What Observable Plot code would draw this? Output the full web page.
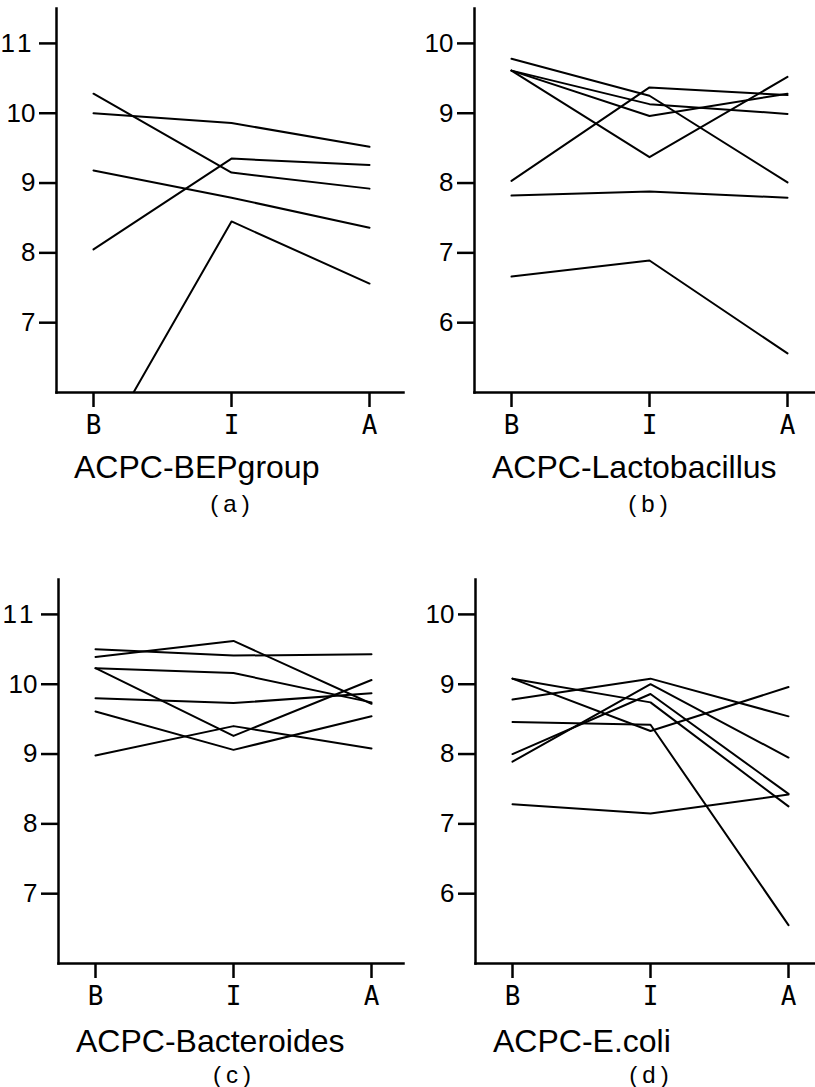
<!DOCTYPE html>
<html>
<head>
<meta charset="utf-8">
<script src="https://cdn.jsdelivr.net/npm/d3@7"></script>
<script src="https://cdn.jsdelivr.net/npm/@observablehq/plot@0.6"></script>
<style>
  html, body { margin: 0; padding: 0; background: #fff; }
  #page { position: relative; width: 815px; height: 1087px; background: #fff; overflow: hidden; }
  .panel { position: absolute; }
  .panel svg { background: transparent; color: #000; overflow: visible; }
  .title { position: absolute; font-family: "Liberation Sans", Arial, sans-serif; font-size: 32px; line-height: 1; color: #000; white-space: nowrap; }
  .sub { position: absolute; font-family: "Liberation Sans", Arial, sans-serif; font-size: 24px; line-height: 1; color: #000; white-space: nowrap; width: 80px; text-align: center; letter-spacing: 5px; padding-left: 5px; box-sizing: border-box; }
</style>
</head>
<body>
<div id="page"></div>
<script>
// Phases on the x axis
const phases = ["B", "I", "A"];

// (a) ACPC-BEPgroup : one row per subject, values at B, I, A
const bepGroup = [
  [10.28, 9.15, 8.92],
  [10.00, 9.86, 9.52],
  [8.05, 9.35, 9.26],
  [9.18, 8.79, 8.36],
  [5.00, 8.45, 7.56]
];

// (b) ACPC-Lactobacillus
const lactobacillus = [
  [9.78, 9.25, 8.01],
  [9.61, 9.13, 8.99],
  [9.61, 8.96, 9.28],
  [9.61, 8.37, 9.52],
  [8.03, 9.37, 9.26],
  [7.82, 7.88, 7.79],
  [6.66, 6.89, 5.56]
];

// (c) ACPC-Bacteroides
const bacteroides = [
  [10.39, 10.62, 9.72],
  [10.50, 10.41, 10.43],
  [10.23, 10.16, 9.74],
  [10.23, 9.26, 10.06],
  [9.80, 9.73, 9.87],
  [9.61, 9.06, 9.54],
  [8.98, 9.40, 9.08]
];

// (d) ACPC-E.coli
const ecoli = [
  [8.78, 9.08, 8.54],
  [9.08, 8.74, 7.25],
  [9.08, 8.33, 8.96],
  [8.00, 8.86, 7.43],
  [7.89, 9.00, 7.95],
  [8.46, 8.42, 5.55],
  [7.28, 7.15, 7.42]
];

// Titles and sub-labels
const titles = ["ACPC-BEPgroup", "ACPC-Lactobacillus", "ACPC-Bacteroides", "ACPC-E.coli"];
const subLabels = ["(a)", "(b)", "(c)", "(d)"];

// Y axis settings per panel
const yDomains = [[6, 11.5], [5, 10.5], [6, 11.5], [5, 10.5]];
const yTicks = [[7, 8, 9, 10, 11], [6, 7, 8, 9, 10], [7, 8, 9, 10, 11], [6, 7, 8, 9, 10]];

const panelData = [bepGroup, lactobacillus, bacteroides, ecoli];

// Layout (page pixels)
const panelPos = [
  {left: 0, top: 0, width: 403},
  {left: 418, top: 0, width: 397},
  {left: 2, top: 571, width: 401},
  {left: 419, top: 571, width: 396}
];

const page = document.getElementById("page");

panelData.forEach((rows, i) => {
  const data = rows.flatMap((vals, s) =>
    vals.map((v, k) => ({subject: s, phase: phases[k], value: v}))
  );
  const pos = panelPos[i];
  const chart = Plot.plot({
    width: pos.width,
    height: 440,
    marginTop: 8,
    marginBottom: 48,
    marginLeft: 56,
    marginRight: 0,
    style: {background: "transparent", color: "#000"},
    x: {type: "point", domain: phases, range: [92, 369], padding: 0},
    y: {domain: yDomains[i]},
    marks: [
      Plot.line(data, {x: "phase", y: "value", z: "subject", stroke: "#000", strokeWidth: 2, clip: true}),
      Plot.axisY({ticks: yTicks[i], tickSize: 17, tickPadding: 4, strokeWidth: 2.5, label: null,
        fontSize: 26, fontFamily: "Liberation Sans Narrow, Arial Narrow, sans-serif", tickFormat: d => String(d)}),
      Plot.axisX({tickSize: 15, tickPadding: 8, strokeWidth: 2.5, label: null,
        fontSize: 26, fontFamily: "DejaVu Sans Mono, monospace"}),
      Plot.frame({anchor: "left", strokeWidth: 2.5}),
      Plot.frame({anchor: "bottom", strokeWidth: 2.5})
    ]
  });
  // spaced "1 1" look of the plotter font
  chart.querySelectorAll("text").forEach(t => {
    if (t.textContent === "11") t.setAttribute("letter-spacing", "4");
  });
  const wrap = document.createElement("div");
  wrap.className = "panel";
  wrap.style.left = pos.left + "px";
  wrap.style.top = pos.top + "px";
  wrap.appendChild(chart);
  page.appendChild(wrap);

  const title = document.createElement("div");
  title.className = "title";
  title.textContent = titles[i];
  title.style.left = (pos.left + 74) + "px";
  title.style.top = (pos.top + (i < 2 ? 451 : 454)) + "px";
  page.appendChild(title);

  const sub = document.createElement("div");
  sub.className = "sub";
  sub.textContent = subLabels[i];
  sub.style.left = (pos.left + 230 - 40) + "px";
  sub.style.top = (pos.top + 492) + "px";
  page.appendChild(sub);
});
</script>
</body>
</html>
